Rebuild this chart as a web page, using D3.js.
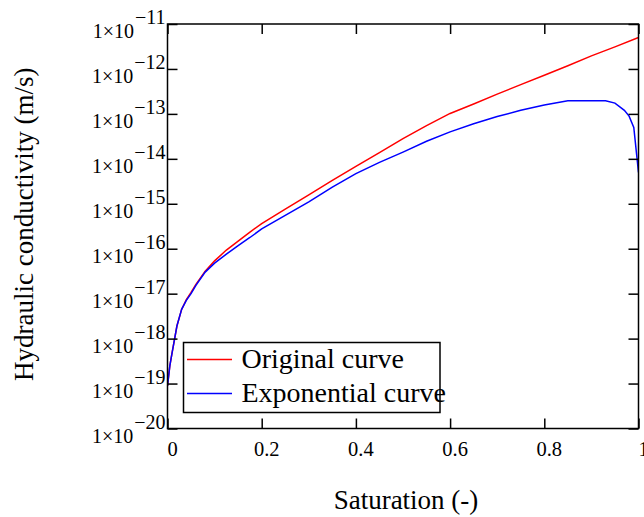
<!DOCTYPE html>
<html>
<head>
<meta charset="utf-8">
<script src="https://cdn.jsdelivr.net/npm/d3@7/dist/d3.min.js"></script>
<style>
  html, body { margin: 0; padding: 0; background: #fff; }
  svg { display: block; }
  text { font-family: "Liberation Serif", "Times New Roman", serif; fill: #000; }
</style>
</head>
<body>
<svg id="chart" width="644" height="517"></svg>
<script>
// ---- data ----
const saturationOriginal = [0, 0.005, 0.01, 0.02, 0.03, 0.04, 0.05, 0.06, 0.08, 0.1, 0.125, 0.15, 0.175, 0.2, 0.25, 0.3, 0.35, 0.4, 0.45, 0.5, 0.55, 0.6, 0.65, 0.7, 0.75, 0.8, 0.85, 0.9, 0.95, 1.0];
const log10KOriginal = [-19.05, -18.6, -18.3, -17.72, -17.35, -17.13, -16.97, -16.8, -16.5, -16.27, -16.03, -15.83, -15.63, -15.44, -15.12, -14.80, -14.48, -14.17, -13.86, -13.55, -13.26, -12.99, -12.78, -12.56, -12.35, -12.14, -11.93, -11.71, -11.51, -11.30];

const saturationExponential = [0, 0.005, 0.01, 0.02, 0.03, 0.04, 0.05, 0.06, 0.08, 0.1, 0.125, 0.15, 0.175, 0.2, 0.25, 0.3, 0.35, 0.4, 0.45, 0.5, 0.55, 0.6, 0.65, 0.7, 0.75, 0.8, 0.85, 0.9, 0.93, 0.95, 0.97, 0.98, 0.99, 1.0];
const log10KExponential = [-19.05, -18.6, -18.3, -17.72, -17.35, -17.15, -17.0, -16.82, -16.52, -16.32, -16.12, -15.93, -15.75, -15.56, -15.26, -14.96, -14.63, -14.33, -14.08, -13.85, -13.61, -13.40, -13.22, -13.06, -12.92, -12.80, -12.71, -12.71, -12.71, -12.76, -12.92, -13.05, -13.30, -14.3];

const xTicks = [0, 0.2, 0.4, 0.6, 0.8, 1];
const xTickLabels = ["0", "0.2", "0.4", "0.6", "0.8", "1"];
const yTickExponents = [-11, -12, -13, -14, -15, -16, -17, -18, -19, -20];

const seriesNames = ["Original curve", "Exponential curve"];
const seriesColors = ["#ff0000", "#0000ff"];

// ---- layout ----
const svg = d3.select("#chart");
const mLeft = 167.5, mRight = 638.5, mTop = 24, mBottom = 428.5;

const x = d3.scaleLinear().domain([0, 1]).range([mLeft, mRight]);
const y = d3.scaleLog().domain([1e-20, 1e-11]).range([mBottom, mTop]);

const toPoints = (s, lk) => s.map((v, i) => [v, Math.pow(10, lk[i])]);
const series = [
  toPoints(saturationOriginal, log10KOriginal),
  toPoints(saturationExponential, log10KExponential)
];

const line = d3.line().x(d => x(d[0])).y(d => y(d[1]));

svg.append("clipPath").attr("id", "clip")
  .append("rect").attr("x", mLeft).attr("y", mTop).attr("width", mRight - mLeft).attr("height", mBottom - mTop);

series.forEach((pts, i) => {
  svg.append("path")
    .attr("d", line(pts))
    .attr("fill", "none")
    .attr("stroke", seriesColors[i])
    .attr("stroke-width", 1.5)
    .attr("clip-path", "url(#clip)");
});

// frame
svg.append("rect")
  .attr("x", mLeft).attr("y", mTop)
  .attr("width", mRight - mLeft).attr("height", mBottom - mTop)
  .attr("fill", "none").attr("stroke", "#000").attr("stroke-width", 1.5);

const tickLen = 10;
const yTickVals = yTickExponents.map(e => Math.pow(10, e));

const axBottom = d3.axisBottom(x).tickValues(xTicks).tickSize(-tickLen).tickFormat("");
const axTop = d3.axisTop(x).tickValues(xTicks).tickSize(-tickLen).tickFormat("");
const axLeft = d3.axisLeft(y).tickValues(yTickVals).tickSize(-tickLen).tickFormat("");
const axRight = d3.axisRight(y).tickValues(yTickVals).tickSize(-tickLen).tickFormat("");

[[axBottom, `translate(0,${mBottom})`], [axTop, `translate(0,${mTop})`],
 [axLeft, `translate(${mLeft},0)`], [axRight, `translate(${mRight},0)`]].forEach(([ax, tr]) => {
  const g = svg.append("g").attr("transform", tr).call(ax);
  g.select(".domain").remove();
  g.selectAll(".tick line").attr("stroke", "#000").attr("stroke-width", 1.5);
});

// x tick labels
svg.append("g").selectAll("text").data(xTicks).join("text")
  .attr("x", d => x(d) + 5)
  .attr("y", 456)
  .attr("text-anchor", "middle")
  .attr("font-size", 20.5)
  .text((d, i) => xTickLabels[i]);

// y tick labels: 1×10^-n
const yl = svg.append("g").selectAll("g").data(yTickExponents).join("g");
yl.each(function(e) {
  const g = d3.select(this);
  const ty = y(Math.pow(10, e));
  const sup = g.append("text")
    .attr("x", mLeft - 2).attr("y", ty + 0)
    .attr("text-anchor", "end").attr("font-size", 20)
    .text("\u2212" + Math.abs(e));
  const w = sup.node().getComputedTextLength();
  g.append("text")
    .attr("x", mLeft - 2 - w - 1).attr("y", ty + 14)
    .attr("text-anchor", "end").attr("font-size", 20)
    .text("1\u00d710");
});

// axis titles
svg.append("text")
  .attr("x", 406).attr("y", 509)
  .attr("text-anchor", "middle").attr("font-size", 27)
  .text("Saturation (-)");

svg.append("text")
  .attr("transform", "translate(32.5,381) rotate(-90)")
  .attr("text-anchor", "start").attr("font-size", 27)
  .text("Hydraulic conductivity (m/s)");

// legend
const lg = svg.append("g");
lg.append("rect")
  .attr("x", 183.5).attr("y", 342.5).attr("width", 256.5).attr("height", 70)
  .attr("fill", "#fff").attr("stroke", "#000").attr("stroke-width", 1.5);
seriesNames.forEach((name, i) => {
  const ly = 359.5 + i * 34;
  lg.append("line").attr("x1", 187).attr("x2", 232).attr("y1", ly).attr("y2", ly)
    .attr("stroke", seriesColors[i]).attr("stroke-width", 1.5);
  lg.append("text").attr("x", 241.5).attr("y", ly + 8.5)
    .attr("font-size", 28).text(name);
});
</script>
</body>
</html>
